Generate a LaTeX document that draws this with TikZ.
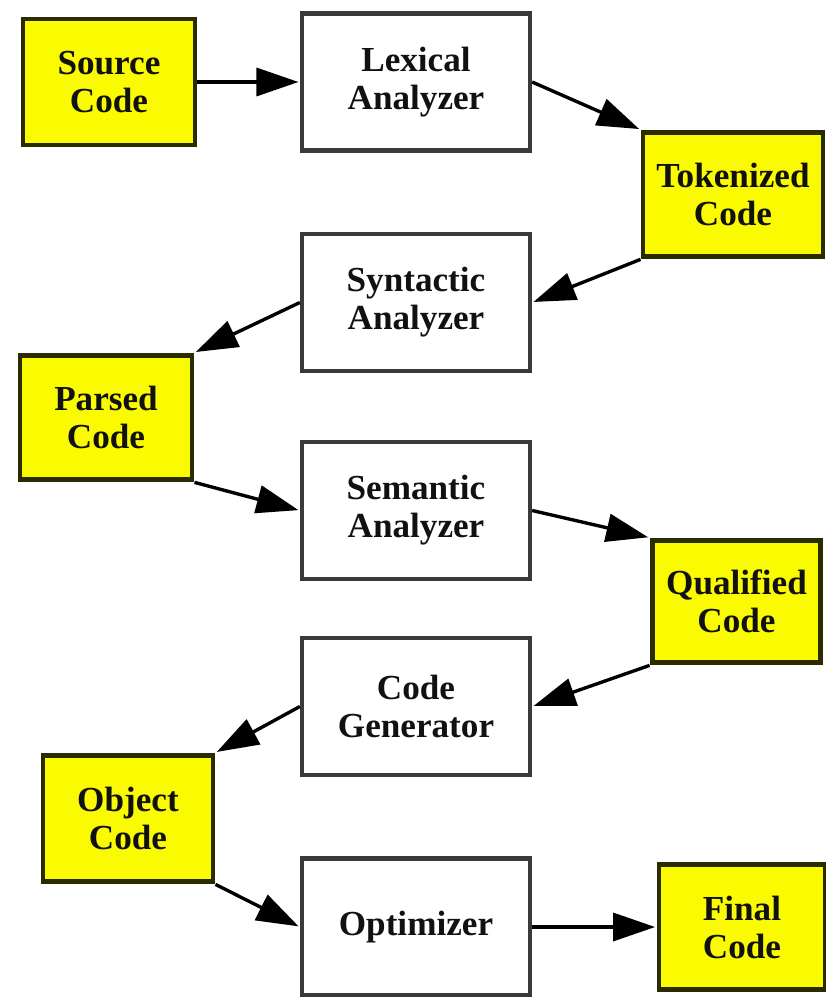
\documentclass[tikz,border=0pt]{standalone}
\usepackage{fontspec}
\setmainfont{Liberation Serif}
\usetikzlibrary{arrows.meta,positioning}
\definecolor{ink}{HTML}{111111}
\definecolor{edge}{HTML}{3A3A3A}
\definecolor{oliveedge}{HTML}{2B2B00}
\definecolor{codefill}{HTML}{FAFA00}
\tikzset{
  every node/.style={font=\fontsize{25}{27}\selectfont\bfseries, text=ink},
  box/.style={draw=edge, fill=white, align=center, inner sep=2pt, line width=3pt,
    minimum width=5.7cm, minimum height=3.42cm},
  codebox/.style={box, fill=codefill, draw=oliveedge, line width=3.5pt},
  arr/.style={-{Triangle[length=1.05cm, width=0.7cm]}, draw=black, line width=2.4pt,
    shorten >=1pt},
}

\begin{document}
\begin{tikzpicture}[x=0.025cm, y=-0.025cm]
  \useasboundingbox (0,0) rectangle (826,997);

  % phases (white boxes), middle column
  \node[box] (lex) at (416,82)    {Lexical\\Analyzer};
  \node[box] (syn) at (416,302.5) {Syntactic\\Analyzer};
  \node[box] (sem) at (416,510.5) {Semantic\\Analyzer};
  \node[box] (gen) at (416,706.5) {Code\\Generator};
  \node[box] (opt) at (416,927)   {Optimizer};

  % code forms (yellow boxes), left and right
  \node[codebox, minimum width=4.3cm,  minimum height=3.15cm] (src) at (109,82)    {Source\\Code};
  \node[codebox, minimum width=4.5cm,  minimum height=3.12cm] (tok) at (733,194.5) {Tokenized\\Code};
  \node[codebox, minimum width=4.3cm,  minimum height=3.12cm] (par) at (106,417.5) {Parsed\\Code};
  \node[codebox, minimum width=4.22cm, minimum height=3.07cm] (qua) at (736.5,601.5) {Qualified\\Code};
  \node[codebox, minimum width=4.25cm, minimum height=3.17cm] (obj) at (128,818.5) {Object\\Code};
  \node[codebox, minimum width=4.15cm, minimum height=3.12cm] (fin) at (742,927)   {Final\\Code};

  % flow arrows
  \foreach \u/\v in {src.east/lex.west, lex.east/tok.north west, tok.south west/syn.east,
      syn.west/par.north east, par.south east/sem.west, sem.east/qua.north west,
      qua.south west/gen.east, gen.west/obj.north east, obj.south east/opt.west,
      opt.east/fin.west} {
    \draw[arr] (\u) -- (\v);
  }
\end{tikzpicture}
\end{document}
